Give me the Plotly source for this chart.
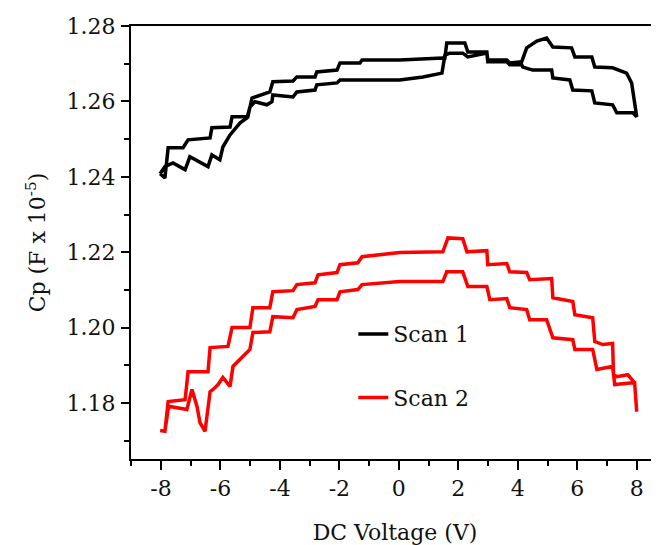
import plotly.graph_objects as go

# Scan 1 (black): forward sweep (-8 -> 8) then reverse sweep (8 -> -8)
scan1_fwd_v = [-8.03, -7.87, -7.60, -7.19, -7.03, -6.42, -6.29, -6.02, -5.92, -5.68, -5.34, -5.11,
               -5.01, -4.84, -4.44, -4.27, -4.24, -3.56, -3.43, -2.82, -2.76, -2.08, -1.98, -1.31,
               0.03, 0.81, 1.45, 1.55, 1.71, 2.15, 2.32, 2.96, 2.99, 3.63, 3.73, 4.13, 4.17, 4.50,
               5.14, 5.18, 5.75, 5.85, 6.49, 6.59, 7.19, 7.33, 7.87, 8.00]
scan1_fwd_c = [1.2408, 1.2427, 1.2437, 1.2419, 1.2453, 1.2427, 1.2458, 1.2445, 1.2479, 1.2511, 1.2543, 1.2556,
               1.2585, 1.2599, 1.2591, 1.2599, 1.2617, 1.2612, 1.2625, 1.2630, 1.2644, 1.2649, 1.2657, 1.2657,
               1.2657, 1.2665, 1.2675, 1.2723, 1.2728, 1.2728, 1.2718, 1.2728, 1.2705, 1.2705, 1.2697, 1.2697, 1.2691, 1.2683,
               1.2683, 1.2662, 1.2657, 1.2630, 1.2628, 1.2596, 1.2591, 1.2570, 1.2570, 1.2559]
scan1_rev_v = [8.00, 7.83, 7.66, 7.19, 6.59, 6.49, 5.92, 5.81, 5.18, 4.97, 4.64, 4.30, 4.13, 3.73,
               3.63, 2.99, 2.96, 2.32, 2.22, 1.61, 1.55, 1.48, 0.03, -1.24, -1.31, -1.98, -2.08, -2.76,
               -2.82, -3.43, -3.56, -4.24, -4.34, -4.94, -5.08, -5.61, -5.68, -6.29, -6.35, -7.09,
               -7.26, -7.76, -7.87, -8.03]
scan1_rev_c = [1.2559, 1.2649, 1.2675, 1.2689, 1.2691, 1.2718, 1.2718, 1.2742, 1.2744, 1.2768, 1.2760, 1.2742, 1.2705, 1.2702,
               1.2710, 1.2710, 1.2731, 1.2731, 1.2755, 1.2755, 1.2715, 1.2715, 1.2710, 1.2710, 1.2702, 1.2702, 1.2683, 1.2678,
               1.2665, 1.2665, 1.2654, 1.2652, 1.2625, 1.2609, 1.2559, 1.2559, 1.2532, 1.2530, 1.2503, 1.2498,
               1.2477, 1.2477, 1.2397, 1.2408]

# Scan 2 (red): forward sweep (-8 -> 8) then reverse sweep (8 -> -8)
scan2_fwd_v = [-8.03, -7.87, -7.76, -7.70, -7.13, -6.96, -6.79, -6.69, -6.52, -6.35, -6.25, -6.08, -5.92,
               -5.68, -5.58, -5.34, -5.11, -5.01, -4.91, -4.34, -4.24, -3.56, -3.43, -2.82, -2.72, -2.08,
               -1.98, -1.38, -1.24, 0.03, 1.48, 1.61, 2.15, 2.32, 2.96, 3.06, 3.63, 3.73, 4.30, 4.40,
               4.97, 5.18, 5.85, 5.92, 6.52, 6.66, 7.19, 7.26, 7.87, 7.93, 8.00]
scan2_fwd_c = [1.1727, 1.1725, 1.1783, 1.1791, 1.1783, 1.1836, 1.1791, 1.1748, 1.1725, 1.1830, 1.1836, 1.1849, 1.1868,
               1.1844, 1.1897, 1.1915, 1.1934, 1.1942, 1.1987, 1.1989, 1.2029, 1.2026, 1.2048, 1.2056, 1.2074, 1.2074,
               1.2095, 1.2101, 1.2114, 1.2122, 1.2122, 1.2148, 1.2148, 1.2109, 1.2109, 1.2074, 1.2077, 1.2053, 1.2048, 1.2021,
               1.2021, 1.1973, 1.1968, 1.1942, 1.1942, 1.1889, 1.1897, 1.1849, 1.1854, 1.1854, 1.1777]
scan2_rev_v = [8.00, 7.93, 7.70, 7.33, 7.22, 7.19, 6.86, 6.59, 6.52, 5.92, 5.85, 5.18, 5.14, 4.40, 4.30,
               3.73, 3.63, 2.99, 2.96, 2.29, 2.15, 1.65, 1.48, 0.03, -1.24, -1.38, -1.98, -2.08, -2.72,
               -2.82, -3.43, -3.56, -4.24, -4.34, -4.91, -5.01, -5.61, -5.75, -6.35, -6.42, -7.09, -7.19,
               -7.76, -7.87, -8.03]
scan2_rev_c = [1.1777, 1.1854, 1.1875, 1.1870, 1.1875, 1.1958, 1.1955, 1.1963, 1.2026, 1.2034, 1.2069, 1.2079, 1.2130, 1.2127, 1.2146,
               1.2148, 1.2170, 1.2167, 1.2204, 1.2201, 1.2236, 1.2238, 1.2201, 1.2199, 1.2188, 1.2172, 1.2167, 1.2146, 1.2140,
               1.2119, 1.2114, 1.2098, 1.2095, 1.2053, 1.2053, 1.2000, 1.2000, 1.1950, 1.1947, 1.1883, 1.1883, 1.1809,
               1.1804, 1.1725, 1.1727]

series_names = ["Scan 1", "Scan 2"]
series_colors = ["#000000", "#ff0000"]

x_tick_vals = [-8, -6, -4, -2, 0, 2, 4, 6, 8]
x_tick_text = ["-8", "-6", "-4", "-2", "0", "2", "4", "6", "8"]
y_tick_vals = [1.18, 1.20, 1.22, 1.24, 1.26, 1.28]
y_tick_text = ["1.18", "1.20", "1.22", "1.24", "1.26", "1.28"]

FONT = "DejaVu Serif"
FS = 22

fig = go.Figure()
fig.add_trace(go.Scatter(x=scan1_fwd_v + scan1_rev_v, y=scan1_fwd_c + scan1_rev_c,
                         mode="lines", name=series_names[0], legendgroup="a",
                         line=dict(color=series_colors[0], width=3.5)))
fig.add_trace(go.Scatter(x=scan2_fwd_v + scan2_rev_v, y=scan2_fwd_c + scan2_rev_c,
                         mode="lines", name=series_names[1], legendgroup="b",
                         line=dict(color=series_colors[1], width=3.5)))

# The page body has an 8px default margin, so the figure is 8px smaller and offset.
fig.update_layout(
    width=651, height=537,
    margin=dict(l=123, r=0, t=18, b=86, pad=0),
    paper_bgcolor="white", plot_bgcolor="white",
    font=dict(family=FONT, size=FS, color="#111111"),
    showlegend=True,
    legend=dict(x=0.421, y=0.337, xanchor="left", yanchor="top",
                bgcolor="rgba(0,0,0,0)", font=dict(family=FONT, size=FS),
                tracegroupgap=32, traceorder="grouped"),
)
fig.update_xaxes(
    range=[-9.01, 8.75], showgrid=False, zeroline=False, automargin=False,
    showline=True, linecolor="black", linewidth=2, mirror=True,
    ticks="outside", ticklen=9, tickwidth=2, tickcolor="black",
    tickmode="array", tickvals=x_tick_vals, ticktext=x_tick_text,
    minor=dict(ticks="outside", ticklen=5, tickwidth=2, tickcolor="black", dtick=1, tick0=-9),
    tickfont=dict(family=FONT, size=FS),
    title=dict(text="DC Voltage (V)", font=dict(family=FONT, size=FS), standoff=25),
)
fig.update_yaxes(
    range=[1.16515, 1.2800], showgrid=False, zeroline=False, automargin=False,
    showline=True, linecolor="black", linewidth=2, mirror=False,
    ticks="outside", ticklen=8, tickwidth=2, tickcolor="black",
    tickmode="array", tickvals=y_tick_vals, ticktext=y_tick_text,
    minor=dict(ticks="outside", ticklen=5, tickwidth=2, tickcolor="black", dtick=0.01, tick0=1.17),
    tickfont=dict(family=FONT, size=FS), ticklabelstandoff=1,
    title=dict(text="Cp (F x 10<sup>-5</sup>)", font=dict(family=FONT, size=FS), standoff=15),
)

fig.write_html("out.html")
